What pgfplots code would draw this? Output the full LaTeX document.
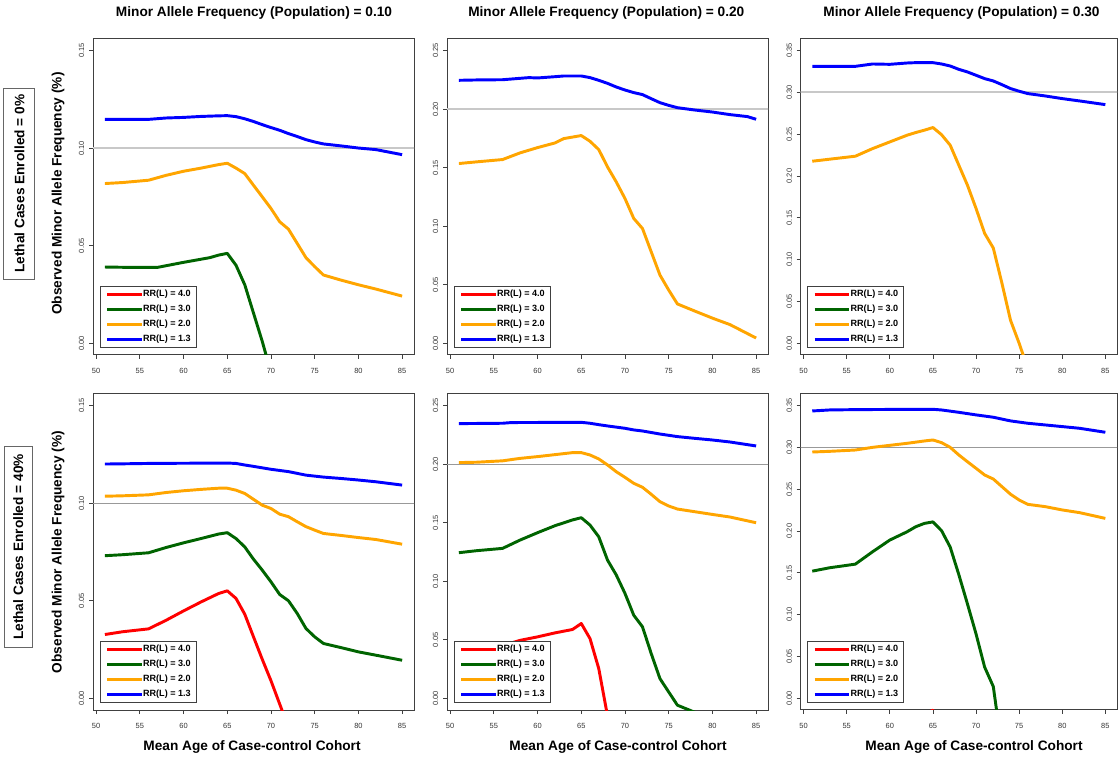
\documentclass[border=0pt]{standalone}
\usepackage{fontspec}
\setmainfont{Liberation Sans}
\usepackage{pgfplots}
\pgfplotsset{compat=1.18}
\definecolor{rred}{HTML}{FF0000}
\definecolor{rgreen}{HTML}{006400}
\definecolor{rorange}{HTML}{FFA500}
\definecolor{rblue}{HTML}{0000FF}
\definecolor{refA}{HTML}{C8C8C8}
\definecolor{refB}{HTML}{999999}
\pgfplotsset{
  panel/.style={
    scale only axis, height=237pt,
    xmin=49.64, xmax=86.36,
    xtick={50,55,...,85},
    tick pos=left, tick align=outside, major tick length=3pt,
    axis line style={black!75, line width=0.75pt},
    every tick/.style={black!75, line width=0.6pt},
    ticklabel style={font=\fontsize{5.6}{6.5}\selectfont, text=black!80},
    /pgf/number format/assume math mode=true,
    xticklabel style={yshift=-3.5pt},
    yticklabel style={rotate=90, anchor=south, /pgf/number format/fixed, /pgf/number format/fixed zerofill, /pgf/number format/precision=2},
    scaled y ticks=false,
    legend style={at={(axis description cs:0,0)}, anchor=south west, xshift=5pt, yshift=5.25pt,
      draw=black!75, line width=0.75pt, fill=white, inner xsep=4.2pt, inner ysep=2.9pt,
      font=\fontsize{6.8}{8}\selectfont\bfseries, row sep=4.85pt,
      cells={anchor=west}, nodes={inner sep=0pt}},
    legend image code/.code={\draw[##1] (0pt,0pt) -- (20pt,0pt); \path (0pt,0pt) -- (25.8pt,0pt);},
    every axis plot/.append style={line width=2.2pt, line join=round},
  },
  colA/.style={panel, width=240.75pt, ymin=-0.006, ymax=0.156, ytick={0,0.05,0.10,0.15}},
  colB/.style={panel, width=240.75pt, ymin=-0.01, ymax=0.26, ytick={0,0.05,0.10,0.15,0.20,0.25}},
  colC/.style={panel, width=237.4pt, ymin=-0.014, ymax=0.364, ytick={0,0.05,0.10,0.15,0.20,0.25,0.30,0.35}},
}
\newcommand{\rrlegend}{%
  \addlegendimage{rred}\addlegendentry{RR(L) = 4.0}
  \addlegendimage{rgreen}\addlegendentry{RR(L) = 3.0}
  \addlegendimage{rorange}\addlegendentry{RR(L) = 2.0}
  \addlegendimage{rblue}\addlegendentry{RR(L) = 1.3}}
\begin{document}
\begin{tikzpicture}
\useasboundingbox (0,0) rectangle (838.5pt,570.75pt);
% ---------- top row ----------
\begin{axis}[colA, at={(69.75pt,304.5pt)}, anchor=south west]
\addplot[forget plot, refA, line width=1.5pt] coordinates {(49,0.1) (87,0.1)};
\addplot[forget plot, rgreen] coordinates {(51,0.0391)(54,0.0389)(57,0.0389)(60,0.0415)(63,0.0439)(64,0.0452)(65,0.0461)(66,0.0400)(67,0.0300)(68,0.0155)(69,0.0010)(70,-0.0150)(71,-0.03)};
\addplot[forget plot, rorange] coordinates {(51,0.0819)(53,0.0824)(56,0.0836)(58,0.0861)(60,0.0882)(62,0.0898)(64,0.0916)(65,0.0923)(66,0.0898)(67,0.0870)(68,0.0810)(69,0.0751)(70,0.0691)(71,0.0623)(72,0.0585)(73,0.0512)(74,0.0439)(75,0.0393)(76,0.0350)(78,0.0324)(80,0.0300)(82,0.0278)(85,0.0242)};
\addplot[forget plot, rblue] coordinates {(51,0.1148)(53,0.1148)(56,0.1148)(58,0.1155)(60,0.1158)(62,0.1163)(64,0.1166)(65,0.1167)(66,0.1162)(67,0.1151)(68,0.1137)(69,0.1121)(70,0.1106)(71,0.1092)(72,0.1075)(73,0.1060)(74,0.1044)(75,0.1032)(76,0.1022)(78,0.1012)(80,0.1001)(82,0.0993)(85,0.0967)};
\rrlegend
\end{axis}
\begin{axis}[colB, at={(335.25pt,304.5pt)}, anchor=south west]
\addplot[forget plot, refA, line width=1.5pt] coordinates {(49,0.2) (87,0.2)};
\addplot[forget plot, rorange] coordinates {(51,0.1536)(53,0.1550)(56,0.1570)(58,0.1627)(60,0.1672)(62,0.1712)(63,0.1749)(64,0.1762)(65,0.1775)(66,0.1726)(67,0.1655)(68,0.1507)(69,0.1379)(70,0.1237)(71,0.1067)(72,0.0981)(73,0.0782)(74,0.0583)(75,0.0455)(76,0.0336)(78,0.0275)(80,0.0215)(82,0.0160)(85,0.0045)};
\addplot[forget plot, rblue] coordinates {(51,0.2247)(53,0.2250)(56,0.2252)(58,0.2264)(59,0.2270)(60,0.2267)(62,0.2278)(63,0.2284)(65,0.2284)(66,0.2270)(67,0.2247)(68,0.2221)(69,0.2190)(70,0.2164)(71,0.2142)(72,0.2125)(73,0.2090)(74,0.2056)(75,0.2033)(76,0.2013)(78,0.1993)(80,0.1976)(82,0.1954)(84,0.1937)(85,0.1914)};
\rrlegend
\end{axis}
\begin{axis}[colC, at={(600.4pt,304.5pt)}, anchor=south west]
\addplot[forget plot, refA, line width=1.5pt] coordinates {(49,0.3) (87,0.3)};
\addplot[forget plot, rorange] coordinates {(51,0.2178)(53,0.2202)(56,0.2238)(58,0.2329)(60,0.2409)(62,0.2489)(63,0.2521)(64,0.2549)(65,0.2581)(66,0.2495)(67,0.2370)(68,0.2131)(69,0.1892)(70,0.1613)(71,0.1314)(72,0.1140)(73,0.0720)(74,0.0275)(75,0.0000)(76,-0.0300)};
\addplot[forget plot, rblue] coordinates {(51,0.3313)(53,0.3313)(56,0.3313)(58,0.3341)(60,0.3337)(62,0.3353)(63,0.3357)(65,0.3357)(66,0.3341)(67,0.3317)(68,0.3277)(69,0.3246)(70,0.3206)(71,0.3166)(72,0.3138)(73,0.3094)(74,0.3047)(75,0.3015)(76,0.2987)(78,0.2959)(80,0.2927)(82,0.2899)(85,0.2855)};
\rrlegend
\end{axis}
% ---------- bottom row ----------
\begin{axis}[colA, at={(69.75pt,38.25pt)}, anchor=south west]
\addplot[forget plot, refB, line width=0.75pt] coordinates {(49,0.1) (87,0.1)};
\addplot[forget plot, rred] coordinates {(51,0.0327)(53,0.0341)(56,0.0356)(58,0.0400)(60,0.0448)(62,0.0494)(64,0.0537)(65,0.0551)(66,0.0512)(67,0.0431)(68,0.0315)(69,0.0200)(70,0.0090)(71,-0.0030)(72,-0.0150)};
\addplot[forget plot, rgreen] coordinates {(51,0.0731)(53,0.0736)(56,0.0746)(58,0.0773)(60,0.0797)(62,0.0819)(64,0.0842)(65,0.0849)(66,0.0819)(67,0.0776)(68,0.0713)(69,0.0657)(70,0.0597)(71,0.0532)(72,0.0500)(73,0.0435)(74,0.0358)(75,0.0315)(76,0.0281)(78,0.0260)(80,0.0238)(82,0.0221)(85,0.0195)};
\addplot[forget plot, rorange] coordinates {(51,0.1036)(53,0.1038)(56,0.1043)(58,0.1055)(60,0.1064)(62,0.1071)(64,0.1077)(65,0.1077)(66,0.1067)(67,0.1050)(68,0.1020)(69,0.0990)(70,0.0973)(71,0.0944)(72,0.0931)(73,0.0905)(74,0.0880)(75,0.0862)(76,0.0845)(78,0.0835)(80,0.0824)(82,0.0814)(85,0.0790)};
\addplot[forget plot, rblue] coordinates {(51,0.1201)(53,0.1202)(56,0.1204)(60,0.1205)(65,0.1206)(66,0.1204)(67,0.1196)(68,0.1189)(70,0.1174)(72,0.1162)(74,0.1144)(76,0.1134)(78,0.1127)(80,0.1119)(82,0.1110)(85,0.1093)};
\rrlegend
\end{axis}
\begin{axis}[colB, at={(335.25pt,38.25pt)}, anchor=south west]
\addplot[forget plot, refB, line width=0.75pt] coordinates {(49,0.2) (87,0.2)};
\addplot[forget plot, rred] coordinates {(51,0.0400)(56,0.0450)(58,0.0495)(60,0.0525)(62,0.0559)(64,0.0588)(65,0.0639)(66,0.0510)(67,0.0254)(68,-0.0150)};
\addplot[forget plot, rgreen] coordinates {(51,0.1244)(53,0.1261)(56,0.1281)(58,0.1352)(60,0.1415)(62,0.1475)(64,0.1524)(65,0.1543)(66,0.1480)(67,0.1380)(68,0.1181)(69,0.1054)(70,0.0896)(71,0.0710)(72,0.0611)(73,0.0382)(74,0.0168)(75,0.0054)(76,-0.0059)(78,-0.0120)(80,-0.0200)};
\addplot[forget plot, rorange] coordinates {(51,0.2014)(53,0.2017)(56,0.2029)(58,0.2050)(60,0.2065)(62,0.2082)(64,0.2099)(65,0.2099)(66,0.2079)(67,0.2045)(68,0.1994)(69,0.1936)(70,0.1888)(71,0.1837)(72,0.1803)(73,0.1743)(74,0.1680)(75,0.1643)(76,0.1617)(78,0.1594)(80,0.1571)(82,0.1549)(85,0.1500)};
\addplot[forget plot, rblue] coordinates {(51,0.2347)(56,0.2350)(57,0.2356)(65,0.2358)(66,0.2350)(67,0.2338)(68,0.2327)(70,0.2307)(71,0.2293)(72,0.2284)(74,0.2258)(76,0.2236)(78,0.2221)(80,0.2207)(82,0.2190)(85,0.2156)};
\rrlegend
\end{axis}
\begin{axis}[colC, at={(600.4pt,38.25pt)}, anchor=south west]
\addplot[forget plot, refB, line width=0.75pt] coordinates {(49,0.3) (87,0.3)};
\addplot[forget plot, rred] coordinates {(51,-0.060)(56,-0.050)(60,-0.036)(64,-0.019)(65,-0.0143)(66,-0.031)(67,-0.070)};
\addplot[forget plot, rgreen] coordinates {(51,0.1521)(53,0.1561)(56,0.1605)(58,0.1753)(60,0.1893)(62,0.1992)(63,0.2052)(64,0.2092)(65,0.2110)(66,0.2005)(67,0.1809)(68,0.1480)(69,0.1130)(70,0.0770)(71,0.0372)(72,0.0141)(73,-0.0600)};
\addplot[forget plot, rorange] coordinates {(51,0.2946)(53,0.2954)(56,0.2970)(58,0.3002)(60,0.3026)(62,0.3050)(64,0.3078)(65,0.3090)(66,0.3058)(67,0.3002)(68,0.2911)(69,0.2830)(70,0.2751)(71,0.2671)(72,0.2623)(73,0.2532)(74,0.2441)(75,0.2372)(76,0.2320)(78,0.2293)(80,0.2253)(82,0.2221)(85,0.2152)};
\addplot[forget plot, rblue] coordinates {(51,0.3437)(53,0.3449)(56,0.3453)(63,0.3457)(65,0.3457)(66,0.3449)(68,0.3421)(70,0.3390)(72,0.3362)(74,0.3318)(76,0.3290)(78,0.3270)(80,0.3250)(82,0.3230)(85,0.3182)};
\rrlegend
\end{axis}
% ---------- labels ----------
\begin{scope}[every node/.style={font=\bfseries\fontsize{10.25}{12}\selectfont, inner sep=0pt}]
\node at (190.5pt,561pt) {Minor Allele Frequency (Population) = 0.10};
\node at (454.7pt,561pt) {Minor Allele Frequency (Population) = 0.20};
\node at (721.1pt,561pt) {Minor Allele Frequency (Population) = 0.30};
\node at (189pt,10.5pt) {Mean Age of Case-control Cohort};
\node at (463.5pt,10.5pt) {Mean Age of Case-control Cohort};
\node at (730.5pt,10.5pt) {Mean Age of Case-control Cohort};
\node[rotate=90] at (43.5pt,425.6pt) {Observed Minor Allele Frequency (\%)};
\node[rotate=90] at (43.5pt,156.75pt) {Observed Minor Allele Frequency (\%)};
\node[rotate=90, draw=black!60, line width=0.75pt, minimum width=143.25pt, minimum height=23.25pt] at (14.6pt,433.1pt) {Lethal Cases Enrolled = 0\%};
\node[rotate=90, draw=black!60, line width=0.75pt, minimum width=150.5pt, minimum height=21.5pt] at (13.75pt,160.5pt) {Lethal Cases Enrolled = 40\%};
\end{scope}
\end{tikzpicture}
\end{document}
